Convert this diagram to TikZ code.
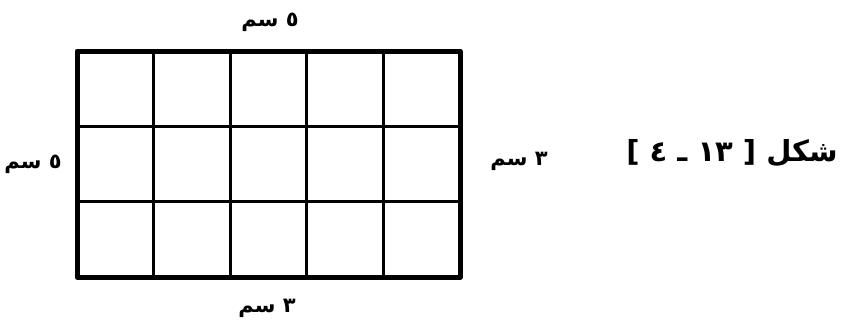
\documentclass[tikz,border=0pt]{standalone}
\usepackage{fontspec}
\newfontfamily\arabicfont[Script=Arabic]{DejaVu Sans}
\TeXXeTstate=1
\usetikzlibrary{positioning}

\begin{document}
\begin{tikzpicture}[x=1pt, y=-1pt,
    sidelbl/.style={font=\arabicfont\bfseries\fontsize{21}{21}\selectfont, inner sep=0pt},
    figcap/.style={font=\arabicfont\bfseries\fontsize{29}{29}\selectfont, inner sep=0pt},
    thinline/.style={line width=2.8pt},
    thickline/.style={line width=5pt, line join=round}]
    \useasboundingbox (0,0) rectangle (846,325);

    % Grid of 5 x 3 squares
    \foreach \i in {1,...,4}
        \draw[thinline] (77+\i*76.6,51) -- (77+\i*76.6,277);
    \foreach \j in {1,2}
        \draw[thinline] (77,51+\j*75.3) -- (460,51+\j*75.3);
    \node[draw, thickline, minimum width=383pt, minimum height=226pt, inner sep=0pt] (board) at (268.5,164) {};

    % Side lengths
    \node[sidelbl] (toplen) at (270,22) {\beginR ٥ سم\endR};
    \node[sidelbl] (leftlen) at (33,164) {\beginR ٥ سم\endR};
    \node[sidelbl] (rightlen) at (519,161) {\beginR ٣ سم\endR};
    \node[sidelbl] (bottomlen) at (267,308) {\beginR ٣ سم\endR};

    % Figure number
    \node[figcap] (figno) at (732,153) {\beginR شكل [ ١٣ ـ ٤ ]\endR};
\end{tikzpicture}
\end{document}
